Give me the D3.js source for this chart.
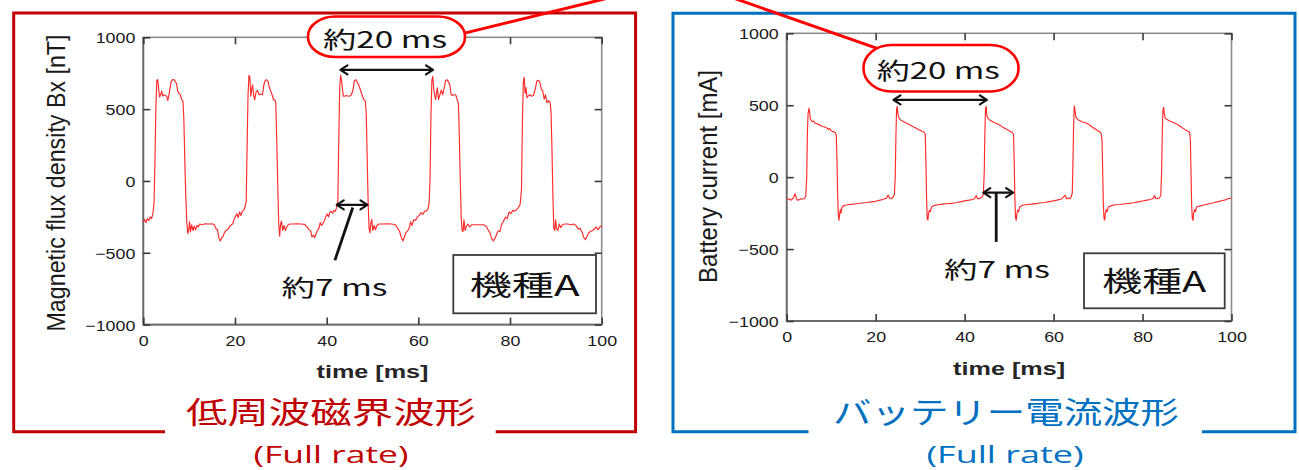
<!DOCTYPE html>
<html>
<head>
<meta charset="utf-8">
<script src="https://cdn.jsdelivr.net/npm/d3@7"></script>
<style>
  html, body { margin: 0; padding: 0; background: #ffffff; }
  svg { display: block; }
</style>
</head>
<body>
<svg id="chart" width="1299" height="470"></svg>
<script>
// ---------------------------------------------------------------
// Waveforms over 100 ms (Full rate): [time ms, value]
// ---------------------------------------------------------------
const fluxSamples = [
  [0.0,-285],[0.3,-268],[0.6,-290],[0.9,-262],[1.2,-275],[1.5,-250],[1.8,-262],[2.1,-228],[2.35,-150],
  [2.55,150],[2.75,520],[2.95,700],[3.15,705],[3.35,640],[3.55,585],[3.8,600],[4.0,625],[4.25,590],
  [4.5,600],[4.8,595],[5.1,590],[5.35,560],[5.6,600],[5.85,650],[6.1,695],[6.4,705],[6.7,705],[7.0,690],
  [7.25,680],[7.5,625],[7.8,610],[8.1,600],[8.4,565],[8.65,555],[8.85,430],[9.05,150],[9.25,-90],
  [9.5,-290],[9.7,-365],[9.9,-345],[10.1,-285],[10.3,-355],[10.55,-305],[10.85,-345],[11.1,-315],
  [11.4,-340],[11.7,-310],[12.0,-320],[12.3,-300],[12.8,-305],[13.5,-298],[14.3,-300],[15.0,-298],
  [15.5,-305],[15.9,-335],[16.2,-340],[16.5,-400],[16.8,-418],[17.1,-395],[17.4,-385],[17.7,-360],
  [18.0,-345],[18.4,-340],[18.8,-318],[19.2,-305],[19.5,-298],[19.8,-268],[20.1,-248],[20.4,-228],
  [20.7,-255],[21.0,-215],[21.3,-240],[21.6,-212],[21.9,-205],[22.2,-180],[22.45,-140],
  [22.65,250],[22.85,600],[23.05,735],[23.25,720],[23.45,590],[23.65,640],[23.85,670],[24.05,600],
  [24.3,565],[24.6,620],[24.9,630],[25.3,600],[25.7,605],[26.0,600],[26.3,670],[26.6,700],[26.9,705],
  [27.2,695],[27.5,650],[27.8,625],[28.1,600],[28.4,565],[28.7,565],[28.9,545],[29.1,300],[29.35,-60],
  [29.55,-300],[29.75,-385],[29.95,-300],[30.15,-280],[30.4,-345],[30.7,-310],[31.0,-345],[31.3,-320],
  [31.6,-305],[32.0,-300],[32.6,-300],[33.5,-298],[34.4,-300],[35.2,-302],[35.7,-320],[36.1,-340],
  [36.5,-345],[36.8,-390],[37.1,-378],[37.4,-395],[37.7,-365],[38.0,-345],[38.3,-330],[38.6,-290],
  [38.9,-310],[39.2,-295],[39.5,-275],[39.8,-250],[40.1,-230],[40.4,-250],[40.7,-218],[41.0,-212],
  [41.3,-225],[41.6,-205],[41.9,-212],[42.2,-180],[42.45,-130],
  [42.65,300],[42.85,650],[43.05,735],[43.25,700],[43.45,640],[43.65,590],[43.9,590],[44.3,595],
  [44.7,590],[45.1,592],[45.4,600],[45.75,635],[46.05,700],[46.35,705],[46.65,690],[46.95,670],
  [47.3,640],[47.7,600],[48.05,570],[48.45,555],[48.65,450],[48.85,150],[49.05,-150],[49.25,-330],
  [49.45,-362],[49.65,-290],[49.85,-268],[50.05,-345],[50.35,-310],[50.65,-340],[50.95,-310],
  [51.4,-300],[52.2,-300],[53.2,-298],[54.2,-300],[55.0,-305],[55.5,-330],[55.9,-350],[56.3,-395],
  [56.65,-418],[56.95,-390],[57.3,-360],[57.7,-345],[58.0,-330],[58.3,-285],[58.6,-310],[59.0,-270],
  [59.4,-275],[59.8,-250],[60.2,-240],[60.6,-220],[61.0,-232],[61.4,-210],[61.8,-208],[62.1,-195],
  [62.35,-153],[62.55,10],
  [62.75,450],[62.95,700],[63.15,728],[63.35,640],[63.55,600],[63.75,568],[63.95,610],[64.15,648],
  [64.4,568],[64.7,600],[65.0,632],[65.3,600],[65.65,650],[65.95,700],[66.25,705],[66.55,692],
  [66.85,670],[67.15,600],[67.45,595],[67.8,600],[68.15,600],[68.45,568],[68.75,540],[68.95,300],
  [69.15,0],[69.35,-250],[69.55,-345],[69.75,-352],[69.95,-270],[70.2,-345],[70.5,-315],[70.8,-300],
  [71.2,-320],[71.7,-305],[72.4,-305],[73.4,-305],[74.2,-305],[74.8,-315],[75.2,-340],[75.6,-360],
  [76.0,-400],[76.35,-418],[76.7,-400],[77.0,-378],[77.4,-348],[77.8,-352],[78.2,-300],[78.6,-278],
  [79.0,-252],[79.4,-262],[79.8,-215],[80.2,-228],[80.6,-205],[81.0,-210],[81.4,-200],[81.8,-185],
  [82.2,-165],[82.5,-60],
  [82.7,400],[82.9,690],[83.1,722],[83.3,610],[83.5,650],[83.7,580],[83.95,590],[84.3,600],[84.7,590],
  [85.1,595],[85.5,640],[85.85,695],[86.2,700],[86.5,690],[86.8,640],[87.1,630],[87.45,570],[87.75,600],
  [88.05,545],[88.4,560],[88.75,545],[88.95,480],[89.15,220],[89.35,-100],[89.55,-330],[89.75,-345],
  [89.95,-270],[90.15,-330],[90.45,-345],[90.75,-300],[91.05,-325],[91.45,-305],[91.9,-300],
  [92.6,-300],[93.3,-305],[93.9,-300],[94.4,-310],[94.9,-335],[95.3,-330],[95.7,-355],[96.1,-395],
  [96.45,-408],[96.8,-385],[97.2,-360],[97.6,-350],[98.0,-345],[98.4,-335],[98.8,-320],[99.2,-340],
  [99.6,-320],[100.0,-312]
];

const currentSamples = [
  [0,-155],[0.5,-150],[1.0,-160],[1.4,-148],[1.7,-130],[1.9,-115],[2.1,-140],[2.4,-160],[2.8,-158],
  [3.2,-150],[3.6,-152],[4.0,-148],[4.3,-130],[4.5,0],[4.65,300],[4.8,440],[5.0,478],[5.15,455],
  [5.3,410],[5.5,395],[5.8,385],[6.1,390],[6.4,375],[6.8,372],[7.2,365],[7.6,360],[8.0,352],[8.4,350],
  [8.8,345],[9.1,340],[9.4,330],[9.7,338],[10.0,322],[10.3,318],[10.6,315],[10.9,310],[11.15,290],
  [11.3,120],[11.45,-120],[11.6,-260],[11.75,-300],[11.9,-260],[12.05,-225],[12.2,-250],[12.4,-215],
  [12.7,-200],[13.2,-195],[14.0,-190],[15.0,-188],[16.0,-183],[17.0,-180],[18.0,-176],[19.0,-172],
  [20.0,-168],[21.0,-160],[21.6,-155],[22.0,-150],[22.4,-148],[22.8,-125],[23.1,-145],[23.5,-150],
  [23.9,-140],[24.2,-120],[24.4,0],[24.55,280],[24.7,470],[24.85,492],[25.0,440],[25.2,415],[25.5,400],
  [25.9,392],[26.3,385],[26.8,378],[27.3,370],[27.8,362],[28.3,352],[28.8,345],[29.3,336],[29.7,330],
  [30.1,325],[30.5,318],[30.9,312],[31.15,300],[31.3,100],[31.45,-150],[31.6,-290],[31.75,-298],
  [31.9,-250],[32.1,-230],[32.3,-240],[32.6,-205],[33.0,-198],[34.0,-192],[35.0,-188],[36.0,-185],
  [37.0,-182],[38.0,-178],[39.0,-172],[40.0,-165],[41.0,-160],[41.8,-155],[42.2,-150],[42.6,-128],
  [42.9,-150],[43.4,-148],[43.9,-140],[44.2,-120],[44.4,20],[44.55,300],[44.7,480],[44.85,492],
  [45.0,430],[45.2,412],[45.6,398],[46.0,392],[46.5,382],[47.0,375],[47.5,368],[48.0,360],[48.5,348],
  [49.0,340],[49.5,332],[50.0,322],[50.4,315],[50.8,308],[51.0,295],[51.15,100],[51.3,-150],
  [51.45,-280],[51.6,-300],[51.75,-255],[51.95,-228],[52.15,-240],[52.4,-205],[53.0,-195],[54.0,-190],
  [55.0,-188],[56.0,-184],[57.0,-180],[58.0,-176],[59.0,-170],[60.0,-165],[61.0,-158],[61.8,-152],
  [62.3,-135],[62.6,-125],[62.9,-150],[63.3,-145],[63.7,-150],[64.0,-135],[64.2,-110],[64.35,100],
  [64.5,350],[64.65,495],[64.8,470],[65.0,420],[65.3,405],[65.7,395],[66.1,390],[66.6,382],[67.1,380],
  [67.6,372],[68.1,362],[68.6,350],[69.1,340],[69.6,330],[70.0,322],[70.4,315],[70.7,305],[70.9,250],
  [71.05,20],[71.2,-200],[71.35,-290],[71.5,-298],[71.65,-250],[71.85,-225],[72.05,-240],[72.3,-208],
  [73.0,-198],[74.0,-192],[75.0,-190],[76.0,-185],[77.0,-182],[78.0,-178],[79.0,-172],[80.0,-166],
  [81.0,-160],[81.8,-155],[82.3,-150],[82.7,-128],[83.0,-150],[83.4,-148],[83.8,-145],[84.1,-125],
  [84.3,50],[84.45,330],[84.6,470],[84.75,485],[84.9,440],[85.1,410],[85.5,400],[86.0,392],[86.5,385],
  [87.0,380],[87.5,372],[88.0,362],[88.5,352],[89.0,342],[89.5,332],[89.9,325],[90.3,318],[90.6,310],
  [90.75,260],[90.9,30],[91.05,-200],[91.2,-290],[91.35,-300],[91.5,-250],[91.7,-225],[91.9,-240],
  [92.15,-208],[93.0,-200],[94.0,-192],[95.0,-185],[96.0,-178],[97.0,-170],[98.0,-162],[98.6,-158],
  [99.0,-152],[99.5,-148],[100.0,-145]
];

// Axis ticks and labels
const xDomain = [0, 100];
const yDomain = [-1000, 1000];
const xTickValues = [0, 20, 40, 60, 80, 100];
const yTickValues = [-1000, -500, 0, 500, 1000];
const xAxisLabel = "time [ms]";
const fluxAxisLabel = "Magnetic flux density Bx [nT]";
const currentAxisLabel = "Battery current [mA]";

// Callout texts and measured spans (ms)
const periodText = "約20 ms";
const pulseText = "約7 ms";
const modelText = "機種A";
const fluxPeriodSpan = [43, 63.2];     // rise-to-rise
const fluxPulseSpan = [42.2, 48.9];    // pulse width
const currentPeriodSpan = [24.0, 45.0];
const currentPulseSpan = [44.2, 50.9];

// Panel titles
const fluxTitle = "低周波磁界波形";
const currentTitle = "バッテリー電流波形";
const rateText = "(Full rate)";

// ---------------------------------------------------------------
const svg = d3.select("#chart");
const LATIN = "'Liberation Sans', Arial, Helvetica, sans-serif";
const CJK = "'Noto Sans CJK JP', 'Noto Sans', sans-serif";
const SUB = "'Open Sans', 'Noto Sans', sans-serif";
const WAVE = "#ff2a2a";
const DARK_RED = "#c00000";
const BLUE = "#0070c0";

function addText(parent, str, o) {
  const t = parent.append("text")
    .text(str)
    .attr("font-family", o.family || LATIN)
    .attr("font-size", o.size)
    .attr("font-weight", o.weight || "normal")
    .attr("fill", o.fill || "#1a1a1a")
    .attr("text-anchor", o.anchor || "start");
  if (o.len) t.attr("textLength", o.len).attr("lengthAdjust", "spacingAndGlyphs");
  if (o.transform) t.attr("transform", o.transform);
  else t.attr("x", o.x).attr("y", o.y);
  return t;
}

function doubleArrow(parent, x1, x2, y) {
  const g = parent.append("g").attr("stroke", "#111").attr("stroke-width", 2.2)
    .attr("fill", "none").attr("stroke-linecap", "round").attr("stroke-linejoin", "round");
  g.append("line").attr("x1", x1 + 1).attr("x2", x2 - 1).attr("y1", y).attr("y2", y);
  const h = 7, w = 4.5;
  g.append("path").attr("d", `M${x1 + h},${y - w}L${x1},${y}L${x1 + h},${y + w}`);
  g.append("path").attr("d", `M${x2 - h},${y - w}L${x2},${y}L${x2 - h},${y + w}`);
}

function framedSection(box, color) {
  const g = svg.append("g").attr("stroke", color).attr("stroke-width", 3).attr("fill", "none");
  g.append("path").attr("d",
    `M${box.gap[0]},${box.bottom}L${box.left},${box.bottom}L${box.left},${box.top}` +
    `L${box.right},${box.top}L${box.right},${box.bottom}L${box.gap[1]},${box.bottom}`);
}

function drawPanel(p) {
  const g = svg.append("g");
  const x = d3.scaleLinear().domain(xDomain).range([p.left, p.right]);
  const y = d3.scaleLinear().domain(yDomain).range([p.bottom, p.top]);
  const fmt = d3.format("d");

  // plot frame: lighter top/right, darker left/bottom
  g.append("rect")
    .attr("x", p.left).attr("y", p.top)
    .attr("width", p.right - p.left).attr("height", p.bottom - p.top)
    .attr("fill", "none").attr("stroke", "#8c8c8c").attr("stroke-width", 1.6);
  g.append("path")
    .attr("d", `M${p.left},${p.top}L${p.left},${p.bottom}L${p.right},${p.bottom}`)
    .attr("fill", "none").attr("stroke", "#6a6a6a").attr("stroke-width", 1.8);

  const styleAxis = (sel) => {
    sel.select(".domain").remove();
    sel.selectAll(".tick line").attr("stroke", "#3a3a3a").attr("stroke-width", 1.6);
  };

  const axL = g.append("g").attr("transform", `translate(${p.left},0)`)
    .call(d3.axisLeft(y).tickValues(yTickValues).tickSizeInner(-7).tickSizeOuter(0)
      .tickPadding(8).tickFormat(fmt));
  const axB = g.append("g").attr("transform", `translate(0,${p.bottom})`)
    .call(d3.axisBottom(x).tickValues(xTickValues).tickSizeInner(-7).tickSizeOuter(0)
      .tickPadding(10.5).tickFormat(fmt));
  const axR = g.append("g").attr("transform", `translate(${p.right},0)`)
    .call(d3.axisRight(y).tickValues(yTickValues).tickSizeInner(-7).tickSizeOuter(0).tickFormat(""));
  const axT = g.append("g").attr("transform", `translate(0,${p.top})`)
    .call(d3.axisTop(x).tickValues(xTickValues).tickSizeInner(-7).tickSizeOuter(0).tickFormat(""));
  [axL, axB, axR, axT].forEach(styleAxis);

  const sx = 1.19;
  axL.selectAll(".tick text")
    .attr("font-family", LATIN).attr("font-size", 15).attr("fill", "#1a1a1a")
    .attr("x", -8 / sx).attr("dy", "0.36em").attr("transform", `scale(${sx},1)`);
  axB.selectAll(".tick text")
    .attr("font-family", LATIN).attr("font-size", 15).attr("fill", "#1a1a1a")
    .attr("transform", `scale(${sx},1)`);

  // axis titles
  addText(g, xAxisLabel, {
    x: (p.left + p.right) / 2, y: p.xLabelY, size: 18, weight: "bold",
    anchor: "middle", len: 112, fill: "#262626"
  });
  addText(g, p.yLabel, {
    transform: `translate(${p.yLabelX},${p.yLabelCY}) scale(1.19,1) rotate(-90)`,
    size: 21, anchor: "middle", len: p.yLabelLen
  });

  // waveform
  const line = d3.line().x(d => x(d[0])).y(d => y(d[1]));
  g.append("path").datum(p.samples)
    .attr("d", line).attr("fill", "none")
    .attr("stroke", WAVE).attr("stroke-width", 1.15).attr("stroke-linejoin", "round");

  // model tag
  g.append("rect")
    .attr("x", p.tag.x).attr("y", p.tag.y).attr("width", p.tag.w).attr("height", p.tag.h)
    .attr("fill", "#fff").attr("stroke", "#3c3c3c").attr("stroke-width", 1.8);
  addText(g, modelText, {
    x: p.tag.x + p.tag.w / 2, y: p.tag.baseline, size: 28, family: CJK,
    anchor: "middle", len: p.tag.textLen, fill: "#111"
  });

  // pulse-width arrow with pointer and note
  const py = y(p.pulseLevel);
  doubleArrow(g, x(p.pulseSpan[0]), x(p.pulseSpan[1]), py);
  g.append("line")
    .attr("x1", x(p.pointer[0][0])).attr("y1", y(p.pointer[0][1]))
    .attr("x2", x(p.pointer[1][0])).attr("y2", y(p.pointer[1][1]))
    .attr("stroke", "#111").attr("stroke-width", 2.8).attr("stroke-linecap", "butt");
  addText(g, pulseText, {
    x: p.pulseNote.x, y: p.pulseNote.y, size: 23, family: CJK,
    anchor: "middle", len: 106, fill: "#111"
  });

  // period arrow
  doubleArrow(g, x(p.periodSpan[0]), x(p.periodSpan[1]), y(p.periodLevel));
  return g;
}

// outer frames
framedSection({ left: 13.7, right: 635.6, top: 13, bottom: 431.7, gap: [165, 495.7] }, DARK_RED);
framedSection({ left: 673, right: 1295, top: 13.3, bottom: 431.7, gap: [808.5, 1202] }, BLUE);

drawPanel({
  left: 143.3, right: 601.7, top: 37.3, bottom: 324.6,
  samples: fluxSamples, yLabel: fluxAxisLabel,
  yLabelX: 65, yLabelCY: 183, yLabelLen: 297, xLabelY: 378,
  tag: { x: 453.3, y: 255, w: 142.7, h: 58.3, baseline: 296, textLen: 110 },
  pulseSpan: fluxPulseSpan, pulseLevel: -167,
  pointer: [[45.7, -185], [41.8, -552]],
  pulseNote: { x: 334.5, y: 296 },
  periodSpan: fluxPeriodSpan, periodLevel: 773
});

drawPanel({
  left: 786.7, right: 1231.5, top: 33.3, bottom: 321,
  samples: currentSamples, yLabel: currentAxisLabel,
  yLabelX: 717, yLabelCY: 176.5, yLabelLen: 213, xLabelY: 375,
  tag: { x: 1084, y: 253.3, w: 140.7, h: 55, baseline: 292, textLen: 104 },
  pulseSpan: currentPulseSpan, pulseLevel: -108,
  pointer: [[47.1, -108], [47.1, -450]],
  pulseNote: { x: 997, y: 278 },
  periodSpan: currentPeriodSpan, periodLevel: 537
});

// connector between the two period callouts
svg.append("path")
  .attr("d", "M440,39.1L682,-20L895,54.7")
  .attr("fill", "none").attr("stroke", "#ff0000").attr("stroke-width", 3)
  .attr("stroke-linejoin", "round");

// period callouts
[
  { x: 308, y: 16.5, w: 157, h: 40.5, rx: 27, ry: 20, tx: 323, ty: 48, len: 124 },
  { x: 863.5, y: 45, w: 155, h: 46.5, rx: 28, ry: 23, tx: 876.7, ty: 78.5, len: 123 }
].forEach(c => {
  svg.append("rect")
    .attr("x", c.x).attr("y", c.y).attr("width", c.w).attr("height", c.h)
    .attr("rx", c.rx).attr("ry", c.ry)
    .attr("fill", "#fff").attr("stroke", "#ff0000").attr("stroke-width", 2.6);
  addText(svg, periodText, { x: c.tx, y: c.ty, size: 23, family: CJK, len: c.len, fill: "#111" });
});

// section titles
addText(svg, fluxTitle, { x: 331, y: 423, size: 30, family: CJK, anchor: "middle", len: 290, fill: DARK_RED });
addText(svg, rateText, { x: 331, y: 463, size: 24, family: SUB, weight: 400, anchor: "middle", len: 155, fill: DARK_RED });
addText(svg, currentTitle, { x: 1006, y: 423, size: 30, family: CJK, anchor: "middle", len: 346, fill: BLUE });
addText(svg, rateText, { x: 1005, y: 463, size: 24, family: SUB, weight: 400, anchor: "middle", len: 157, fill: BLUE });
</script>
</body>
</html>
